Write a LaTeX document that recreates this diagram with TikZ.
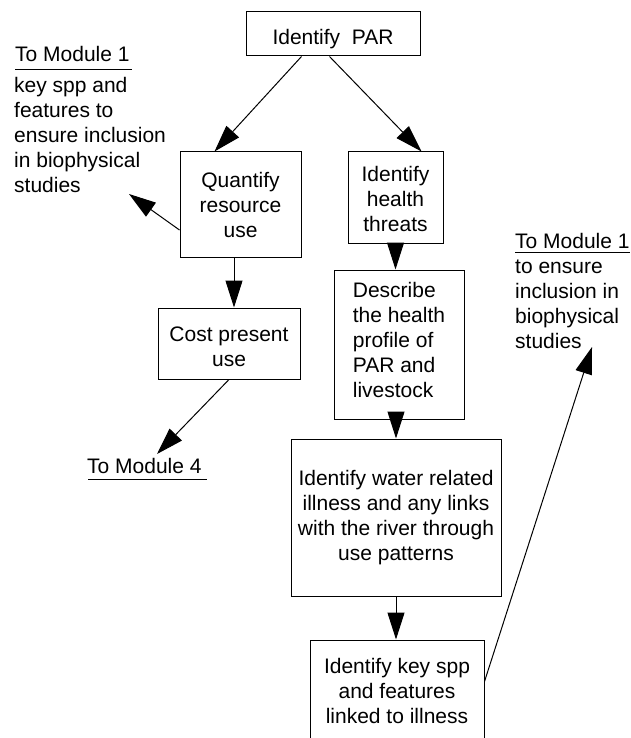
\documentclass[tikz,border=0pt]{standalone}
\usepackage{fontspec}
\setmainfont{Liberation Sans}
\usetikzlibrary{arrows.meta}
\begin{document}
\begin{tikzpicture}[x=1pt,y=-1pt,
  box/.style={draw, line width=1pt, inner sep=0pt, align=center, font=\fontsize{21}{25}\selectfont},
  lbl/.style={inner sep=0pt, align=left, font=\fontsize{21}{25}\selectfont},
  arr/.style={line width=1pt, -{Triangle[length=27pt,width=17pt]}},
  uline/.style={line width=1pt}]
\useasboundingbox (0,0) rectangle (631,738);
\clip (0,0) rectangle (631,738);
% boxes
\node[box, minimum width=174pt, minimum height=44pt, text height=22pt, text depth=0pt] (par) at (333,34) {Identify\ \ PAR};
\node[box, minimum width=121pt, minimum height=105pt] (quant) at (240.5,204.5) {Quantify\\resource\\use};
\node[box, minimum width=95pt, minimum height=91pt] (threat) at (395.5,197.5) {Identify\rule{0pt}{18pt}\\health\\threats};
\node[box, align=left, minimum width=130pt, minimum height=149pt] (desc) at (399,344.5) {Describe\\the health\\profile of\\PAR and\\livestock\rule[-10pt]{0pt}{10pt}};
\node[box, minimum width=210pt, minimum height=157pt] (water) at (396,517.5) {Identify water related\\illness and any links\\with the river through\\use patterns};
\node[box, minimum width=142pt, minimum height=71pt] (cost) at (229,343.5) {Cost present\rule{0pt}{21pt}\\use};
\node[box, minimum width=174pt, minimum height=105pt] (bot) at (397,692.5) {Identify key spp\\and features\\linked to illness\rule[-4pt]{0pt}{4pt}};
% labels
\node[lbl, anchor=base west] (m1l) at (15,62) {To Module 1};
\draw[uline] ([yshift=-8pt]m1l.base west) -- ([xshift=2pt,yshift=-8pt]m1l.base east);
\node[lbl, anchor=base west] (m1ltext) at (14,193) {key spp and\\features to\\ensure inclusion\\in biophysical\\studies};
\node[lbl, anchor=base west] (m1r) at (515,248) {To Module 1};
\draw[uline] ([yshift=-4pt]m1r.base west) -- ([xshift=0pt,yshift=-4pt]m1r.base east);
\node[lbl, anchor=base west] (m1rtext) at (515,348) {to ensure\\inclusion in\\biophysical\\studies};
\node[lbl, anchor=base west] (m4) at (87,473) {To Module 4};
\draw[uline] ([xshift=1pt,yshift=-6pt]m4.base west) -- ([xshift=5pt,yshift=-6pt]m4.base east);
% free ends
\coordinate (tipL) at (129,194);
\coordinate (tipR) at (592,347);
\coordinate (tip4) at (157,454);
% connectors
\draw[arr] ([xshift=56pt]par.south west) -- ([xshift=35pt]quant.north west);
\draw[arr] ([xshift=84pt]par.south west) -- ([xshift=74pt]threat.north west);
\draw[arr] ([yshift=-25.5pt]quant.west) -- (tipL);
\draw[arr] ([xshift=-6.5pt]quant.south) -- ([xshift=5pt]cost.north);
\draw[arr] (cost.south) -- (tip4);
\draw[arr] (threat.south) -- (threat.south |- desc.north);
\draw[arr] (water.north |- desc.south) -- (water.north);
\draw[arr] (water.south) -- (water.south |- bot.north);
\draw[arr] ([yshift=-42pt]bot.north east) -- (tipR);
\end{tikzpicture}
\end{document}
